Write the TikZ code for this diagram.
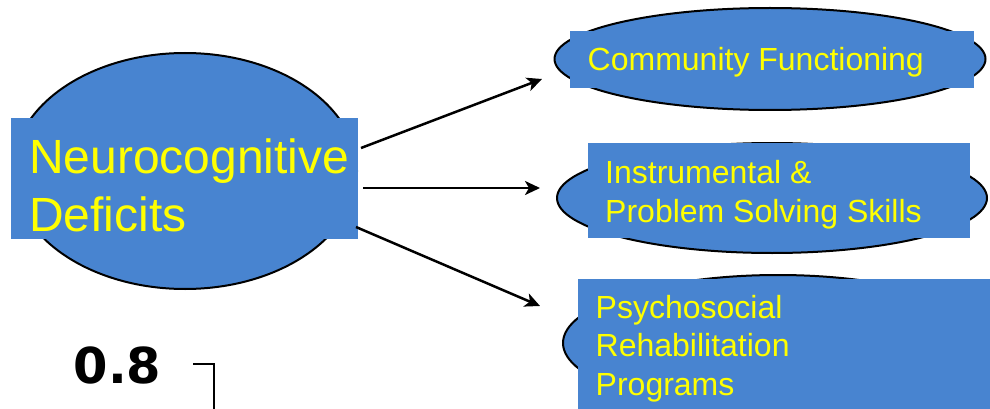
\documentclass[tikz,border=0pt]{standalone}
\usepackage{fontspec}
\setmainfont{Liberation Sans}
\newfontfamily\dejavu{DejaVu Sans}
\usetikzlibrary{shapes.geometric,arrows.meta}
\definecolor{boxblue}{RGB}{72,132,208}
\definecolor{txtyellow}{RGB}{255,255,0}
\tikzset{
  oval/.style={ellipse, draw=black, line width=2pt, fill=boxblue, inner sep=0pt},
  panel/.style={rectangle, fill=boxblue, draw=none, inner sep=0pt},
  lbl/.style={text=txtyellow, inner sep=0pt, align=left, anchor=north west},
  conn/.style={line width=2.5pt, -{Stealth[length=15pt,width=14pt,inset=4pt]}},
}
\begin{document}
\begin{tikzpicture}[x=1pt,y=-1pt]
\clip (0,0) rectangle (990,409);
\fill[white] (0,0) rectangle (990,409);
% main
\node[oval, minimum width=344pt, minimum height=236pt] (e0) at (185,171) {};
\node[panel, minimum width=347pt, minimum height=121pt] (r0) at (184.5,178.5) {};
\node[lbl, font=\fontsize{48}{58}\selectfont] (t0) at (29,138.6) {Neurocognitive\\Deficits};
% community
\node[oval, minimum width=431pt, minimum height=102pt] (e1) at (770,59) {};
\node[panel, minimum width=404pt, minimum height=57pt] (r1) at (772,59.5) {};
\node[text=txtyellow, inner sep=0pt, anchor=base west, font=\fontsize{32}{39}\selectfont] (t1) at (587.5,71) {Community Functioning};
% instrumental
\node[oval, minimum width=430pt, minimum height=110pt] (e2) at (772,198) {};
\node[panel, minimum width=382pt, minimum height=95pt] (r2) at (779,190.5) {};
\node[lbl, font=\fontsize{32}{39}\selectfont] (t2) at (605,160) {Instrumental \&\\Problem Solving Skills};
% psychosocial
\node[oval, minimum width=430pt, minimum height=136pt] (e3) at (778,343) {};
\node[panel, minimum width=422pt, minimum height=141pt] (r3) at (789,349.5) {};
\node[lbl, font=\fontsize{32}{38.5}\selectfont] (t3) at (595.5,295) {Psychosocial\\Rehabilitation\\Programs};
% arrows
\coordinate (a1s) at (361,148);
\coordinate (a1e) at (542,79);
\coordinate (a2s) at (363,188);
\coordinate (a2e) at (540,188);
\coordinate (a3s) at (356,227);
\coordinate (a3e) at (540,306);
\draw[conn] (a1s) -- (a1e);
\draw[conn] (a2s) -- (a2e);
\draw[conn] (a3s) -- (a3e);
% 0.8 label
\node[inner sep=0pt, anchor=base west, font=\dejavu\bfseries\fontsize{49.5}{58}\selectfont] (n08) at (73.5,383) {0.8};
\coordinate (b1) at (193,364);
\coordinate (b2) at (214,364);
\coordinate (b3) at (214,415);
\draw[line width=2pt] (b1) -- (b2) -- (b3);
\end{tikzpicture}
\end{document}
